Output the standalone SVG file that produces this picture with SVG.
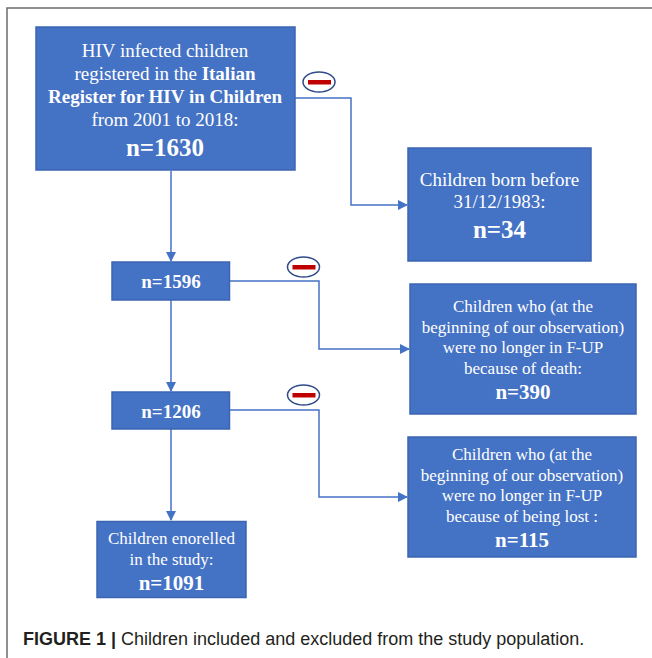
<svg xmlns="http://www.w3.org/2000/svg" width="652" height="658" viewBox="0 0 652 658">
<defs>
<marker id="arr" markerWidth="10" markerHeight="10" refX="9" refY="5" orient="auto" markerUnits="userSpaceOnUse">
<path d="M0,0 L10,5 L0,10 Z" fill="#4472C4"/>
</marker>
<style>
.box{fill:#4472C4;stroke:#3B65B2;stroke-width:1.5}
.t{font-family:"Liberation Serif","Times New Roman",serif;fill:#fff;text-anchor:middle}
.b{font-weight:bold}
.c{fill:none;stroke:#4472C4;stroke-width:1.5}
.minus-o{fill:#fff;stroke:#2F4A8A;stroke-width:1.5}
.minus-b{fill:#C00000}
</style>
</defs>
<rect width="652" height="658" fill="#fff"/>
<path d="M7,658 V8 H652" fill="none" stroke="#6b6b6b" stroke-width="1.5"/>

<g id="connectors">
<path class="c" d="M171,171 V261" marker-end="url(#arr)"/>
<path class="c" d="M171,300 V391" marker-end="url(#arr)"/>
<path class="c" d="M171,429 V520" marker-end="url(#arr)"/>
<path class="c" d="M295,98 H351 V205 H407" marker-end="url(#arr)"/>
<path class="c" d="M230,281 H319 V349 H409" marker-end="url(#arr)"/>
<path class="c" d="M230,410 H319 V497 H407" marker-end="url(#arr)"/>
</g>

<g id="minus1"><ellipse class="minus-o" cx="319" cy="82" rx="16" ry="10"/><rect class="minus-b" x="308" y="80" width="23" height="4.5"/></g>
<g id="minus2"><ellipse class="minus-o" cx="303.5" cy="267" rx="16" ry="10"/><rect class="minus-b" x="292.5" y="265" width="23" height="4.5"/></g>
<g id="minus3"><ellipse class="minus-o" cx="303.5" cy="395" rx="16" ry="10"/><rect class="minus-b" x="292.5" y="393" width="23" height="4.5"/></g>

<g id="n1630">
<rect class="box" x="36" y="27" width="259" height="143"/>
<text class="t" x="165" y="57" font-size="19">HIV infected children</text>
<text class="t" x="165" y="80" font-size="19">registered in the <tspan class="b">Italian</tspan></text>
<text class="t b" x="165" y="103" font-size="19">Register for HIV in Children</text>
<text class="t" x="165" y="126" font-size="19">from 2001 to 2018:</text>
<text class="t b" x="165" y="156" font-size="25">n=1630</text>
</g>

<g id="born-before">
<rect class="box" x="408" y="148" width="183" height="113"/>
<text class="t" x="499.5" y="186" font-size="19">Children born before</text>
<text class="t" x="499.5" y="208" font-size="19">31/12/1983:</text>
<text class="t b" x="499.5" y="238" font-size="25">n=34</text>
</g>

<g id="n1596">
<rect class="box" x="112" y="262" width="117.5" height="38"/>
<text class="t b" x="171" y="288" font-size="19">n=1596</text>
</g>

<g id="death">
<rect class="box" x="410" y="284" width="226" height="130"/>
<text class="t" x="523" y="312" font-size="17">Children who (at the</text>
<text class="t" x="523" y="333" font-size="17">beginning of our observation)</text>
<text class="t" x="523" y="353" font-size="17">were no longer in F-UP</text>
<text class="t" x="523" y="374" font-size="17">because of death:</text>
<text class="t b" x="523" y="399" font-size="21">n=390</text>
</g>

<g id="n1206">
<rect class="box" x="112" y="392" width="117.5" height="37"/>
<text class="t b" x="171" y="418" font-size="19">n=1206</text>
</g>

<g id="lost">
<rect class="box" x="408" y="437" width="228" height="120"/>
<text class="t" x="522" y="460" font-size="17">Children who (at the</text>
<text class="t" x="522" y="481" font-size="17">beginning of our observation)</text>
<text class="t" x="522" y="501" font-size="17">were no longer in F-UP</text>
<text class="t" x="522" y="522" font-size="17">because of being lost :</text>
<text class="t b" x="522" y="547" font-size="21">n=115</text>
</g>

<g id="enrolled">
<rect class="box" x="97" y="521.5" width="149" height="76"/>
<text class="t" x="171.5" y="544" font-size="17">Children enorelled</text>
<text class="t" x="171.5" y="565" font-size="17">in the study:</text>
<text class="t b" x="171.5" y="590" font-size="21">n=1091</text>
</g>

<text x="23" y="645" font-family="Liberation Sans, Arial, sans-serif" font-size="18" fill="#231F20"><tspan font-weight="bold">FIGURE 1 |</tspan> Children included and excluded from the study population.</text>
</svg>
